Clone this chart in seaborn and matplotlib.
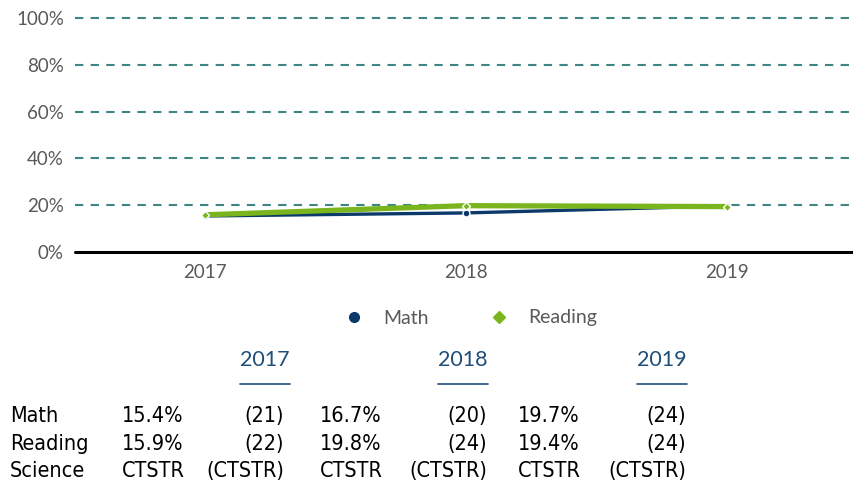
import matplotlib
matplotlib.use("Agg")
import matplotlib.pyplot as plt
from matplotlib.lines import Line2D
import pandas as pd
import seaborn as sns

YEARS = ["2017", "2018", "2019"]
MATH = [15.4, 16.7, 19.7]
READING = [15.9, 19.8, 19.4]
SERIES = ["Math", "Reading"]
Y_TICKS = [0, 20, 40, 60, 80, 100]

TABLE_ROWS = ["Math", "Reading", "Science"]
TABLE_PCT = [["15.4%", "16.7%", "19.7%"],
             ["15.9%", "19.8%", "19.4%"],
             ["CTSTR", "CTSTR", "CTSTR"]]
TABLE_N = [["(21)", "(20)", "(24)"],
           ["(22)", "(24)", "(24)"],
           ["(CTSTR)", "(CTSTR)", "(CTSTR)"]]

NAVY = "#0b3a6a"
GREEN = "#7ab51d"
TEAL = "#3f8583"
GRAY = "#595959"
HEAD = "#1f4e79"

sns.set_style("white")
plt.rcParams["font.family"] = ["Lato", "DejaVu Sans"]

df = pd.DataFrame({
    "year": YEARS * 2,
    "value": MATH + READING,
    "series": ["Math"] * 3 + ["Reading"] * 3,
})

fig = plt.figure(figsize=(8.54, 4.83), dpi=100)
ax = fig.add_axes([75 / 854, 1 - 252 / 483, 1 - 75 / 854 + 0.004, (252 - 18) / 483])

sns.lineplot(data=df[df.series == "Math"], x="year", y="value", color=NAVY,
             linewidth=2.4, marker="o", markersize=5, markerfacecolor=NAVY,
             markeredgecolor="white", markeredgewidth=1, ax=ax, zorder=3)
sns.lineplot(data=df[df.series == "Reading"], x="year", y="value", color=GREEN,
             linewidth=3.8, marker="D", markersize=4.5, markerfacecolor=GREEN,
             markeredgecolor="white", markeredgewidth=1, ax=ax, zorder=4)

ax.set_xlim(-0.5, 2.5)
ax.set_ylim(0, 100)
ax.set_yticks(Y_TICKS)
ax.set_yticklabels([f"{t}%" for t in Y_TICKS])
for t in Y_TICKS[1:]:
    ax.axhline(t, color=TEAL, linewidth=1.5, linestyle=(0, (4, 3.5)), zorder=1, clip_on=False)
ax.axhline(0, color="black", linewidth=2.2, zorder=2, clip_on=False)
for s in ax.spines.values():
    s.set_visible(False)
ax.set_xlabel("")
ax.set_ylabel("")
ax.tick_params(axis="both", length=0, labelsize=13.5, colors=GRAY)
ax.tick_params(axis="y", pad=8)
ax.tick_params(axis="x", pad=9)

handles = [
    Line2D([], [], linestyle="none", marker="o", markersize=7, color=NAVY),
    Line2D([], [], linestyle="none", marker="D", markersize=6, color=GREEN),
]
leg = fig.legend(handles, SERIES, loc="center", bbox_to_anchor=(466 / 854, 1 - 318 / 483),
                 ncol=2, frameon=False, fontsize=14, columnspacing=2.6, handletextpad=0.5)
for txt in leg.get_texts():
    txt.set_color(GRAY)

# table under the chart
tfont = ["DejaVu Sans"]
head_x = [265, 463, 662]
for x, yr in zip(head_x, YEARS):
    fig.text(x / 854, 1 - 360 / 483, yr, ha="center", va="center", fontsize=15.5,
             color=HEAD)
    fig.add_artist(Line2D([(x - 25) / 854, (x + 25) / 854], [1 - 384 / 483] * 2,
                          color=HEAD, linewidth=1.2))

row_y = [416, 444, 471]
pct_x = [122, 320, 518]
n_x = [284, 487, 686]
for i, name in enumerate(TABLE_ROWS):
    y = 1 - row_y[i] / 483
    fig.text(10 / 854, y, name, ha="left", va="center", fontsize=15.5, color="black",
             family=tfont, fontstretch="condensed")
    for j in range(3):
        fig.text(pct_x[j] / 854, y, TABLE_PCT[i][j], ha="left", va="center",
                 fontsize=15.5, color="black", family=tfont, fontstretch="condensed")
        fig.text(n_x[j] / 854, y, TABLE_N[i][j], ha="right", va="center",
                 fontsize=15.5, color="black", family=tfont, fontstretch="condensed")

fig.savefig("out.png", dpi=100)
